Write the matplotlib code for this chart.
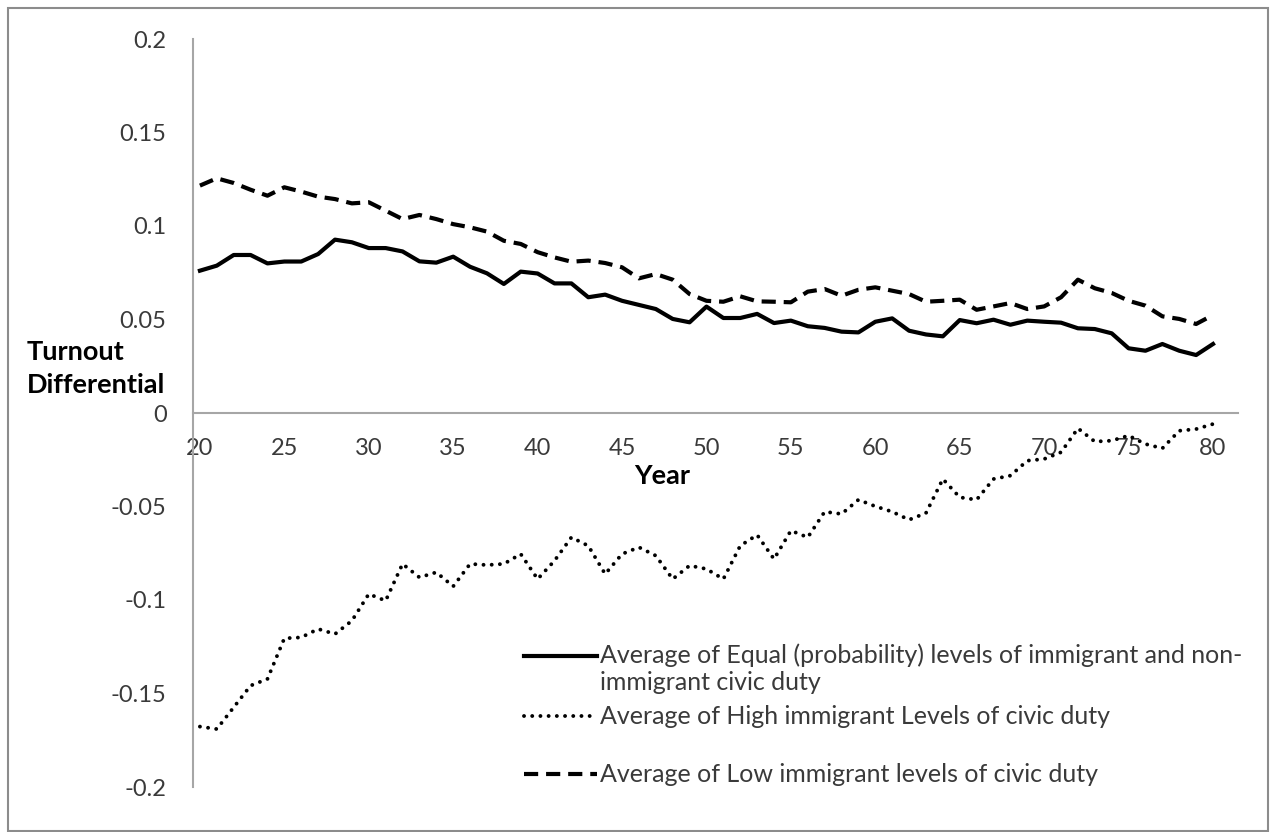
import matplotlib
matplotlib.use("Agg")
import matplotlib.pyplot as plt
from matplotlib.patches import Rectangle
import numpy as np

years = list(range(20, 81))

equal_levels = [0.0761, 0.0788, 0.0845, 0.0845, 0.0800, 0.0810, 0.0810, 0.0850, 0.0927, 0.0913,
                0.0882, 0.0882, 0.0864, 0.0811, 0.0804, 0.0836, 0.0782, 0.0747, 0.0690, 0.0756,
                0.0746, 0.0693, 0.0693, 0.0619, 0.0633, 0.0600, 0.0578, 0.0556, 0.0503, 0.0485,
                0.0569, 0.0508, 0.0508, 0.0530, 0.0481, 0.0494, 0.0464, 0.0455, 0.0435, 0.0431,
                0.0488, 0.0506, 0.0440, 0.0420, 0.0410, 0.0497, 0.0480, 0.0499, 0.0472, 0.0494,
                0.0488, 0.0483, 0.0453, 0.0449, 0.0426, 0.0346, 0.0333, 0.0369, 0.0333, 0.0310,
                0.0369]

high_levels = [-0.1677, -0.1690, -0.1574, -0.1458, -0.1422, -0.1205, -0.1200, -0.1155, -0.1182, -0.1111,
               -0.0968, -0.1004, -0.0807, -0.0879, -0.0852, -0.0927, -0.0807, -0.0813, -0.0807, -0.0754,
               -0.0888, -0.0790, -0.0665, -0.0710, -0.0861, -0.0754, -0.0718, -0.0763, -0.0888, -0.0816,
               -0.0834, -0.0888, -0.0710, -0.0652, -0.0781, -0.0629, -0.0665, -0.0528, -0.0540, -0.0464,
               -0.0499, -0.0528, -0.0571, -0.0535, -0.0353, -0.0451, -0.0464, -0.0353, -0.0335, -0.0255,
               -0.0246, -0.0210, -0.0082, -0.0153, -0.0148, -0.0121, -0.0166, -0.0189, -0.0095, -0.0086,
               -0.0059]

low_levels = [0.1216, 0.1255, 0.1230, 0.1194, 0.1162, 0.1207, 0.1184, 0.1157, 0.1144, 0.1121,
              0.1127, 0.1082, 0.1037, 0.1059, 0.1037, 0.1010, 0.0993, 0.0970, 0.0921, 0.0904,
              0.0860, 0.0832, 0.0809, 0.0815, 0.0802, 0.0779, 0.0720, 0.0743, 0.0713, 0.0636,
              0.0600, 0.0595, 0.0624, 0.0597, 0.0595, 0.0592, 0.0649, 0.0663, 0.0627, 0.0659,
              0.0672, 0.0654, 0.0636, 0.0595, 0.0600, 0.0606, 0.0552, 0.0570, 0.0588, 0.0556,
              0.0570, 0.0619, 0.0713, 0.0667, 0.0642, 0.0600, 0.0574, 0.0517, 0.0503, 0.0476,
              0.0524]

labels = ["Average of Equal (probability) levels of immigrant and non-\nimmigrant civic duty",
          "Average of High immigrant Levels of civic duty",
          "Average of Low immigrant levels of civic duty"]

y_ticks = [-0.2, -0.15, -0.1, -0.05, 0, 0.05, 0.1, 0.15, 0.2]
y_ticklabels = ["-0.2", "-0.15", "-0.1", "-0.05", "0", "0.05", "0.1", "0.15", "0.2"]
x_ticks = [20, 25, 30, 35, 40, 45, 50, 55, 60, 65, 70, 75, 80]

FONT = "Lato"
plt.rcParams["font.family"] = [FONT, "DejaVu Sans"]
TXT = "#3A3A3A"
FS = 17
LFS = 18
BFS = 19.5

W, H = 1275, 832
fig = plt.figure(figsize=(W / 100, H / 100), dpi=100)
ax = fig.add_axes([193 / W, 1 - 787 / H, (1238 - 193) / W, (787 - 39) / H])

l_eq, = ax.plot(years, equal_levels, color="black", lw=3.0, solid_joinstyle="round")
l_hi, = ax.plot(years, high_levels, color="black", lw=2.8, linestyle=(0, (0.01, 2.1)),
                dash_capstyle="round")
l_lo, = ax.plot(years, low_levels, color="black", lw=3.0, linestyle=(0, (3.4, 1.9)),
                dash_capstyle="butt")

ax.set_xlim(19.59, 81.48)
ax.set_ylim(-0.2, 0.2)
ax.set_yticks(y_ticks)
ax.set_yticklabels(y_ticklabels)
ax.set_xticks(x_ticks)
ax.set_xticklabels([str(v) for v in x_ticks])
ax.tick_params(axis="both", length=0, labelsize=FS, labelcolor=TXT)
ax.tick_params(axis="y", pad=19)
ax.tick_params(axis="x", pad=18)

for s in ["top", "right"]:
    ax.spines[s].set_visible(False)
ax.spines["bottom"].set_position(("data", 0))
ax.spines["bottom"].set_color("#A6A6A6")
ax.spines["left"].set_color("#A6A6A6")
ax.spines["bottom"].set_linewidth(1.5)
ax.spines["left"].set_linewidth(1.5)
ax.patch.set_visible(False)

fig.text(27 / W, 1 - 352 / H, "Turnout", fontsize=BFS, fontweight="bold", color="black",
         ha="left", va="center")
fig.text(27 / W, 1 - 385 / H, "Differential", fontsize=BFS, fontweight="bold", color="black",
         ha="left", va="center")
fig.text(662 / W, 1 - 476 / H, "Year", fontsize=BFS, fontweight="bold", color="black",
         ha="center", va="center")

legend_kw = dict(frameon=False, fontsize=LFS, handlelength=2.9, handletextpad=0.12,
                 borderpad=0, borderaxespad=0, bbox_transform=fig.transFigure)


def make_legend(line, label, anchor_y, handle_shift_pt=0.0):
    leg = ax.legend([line], [label], loc="center left",
                    bbox_to_anchor=(524 / W, 1 - anchor_y / H), **legend_kw)
    for t in leg.get_texts():
        t.set_color(TXT)
        t.set_linespacing(1.2)
    if handle_shift_pt:
        for h in leg.legend_handles:
            h.set_ydata(np.asarray(h.get_ydata(), dtype=float) + handle_shift_pt)
    return leg


leg1 = make_legend(l_eq, labels[0], 669, handle_shift_pt=10.0)
ax.add_artist(leg1)
leg2 = make_legend(l_hi, labels[1], 717)
ax.add_artist(leg2)
leg3 = make_legend(l_lo, labels[2], 775)

fig.patches.append(Rectangle((8 / W, 1 / H), (1268 - 8) / W, (H - 9) / H,
                             transform=fig.transFigure, fill=False,
                             edgecolor="#8C8C8C", linewidth=1.5))

fig.savefig("out.png", dpi=100, facecolor="white")
